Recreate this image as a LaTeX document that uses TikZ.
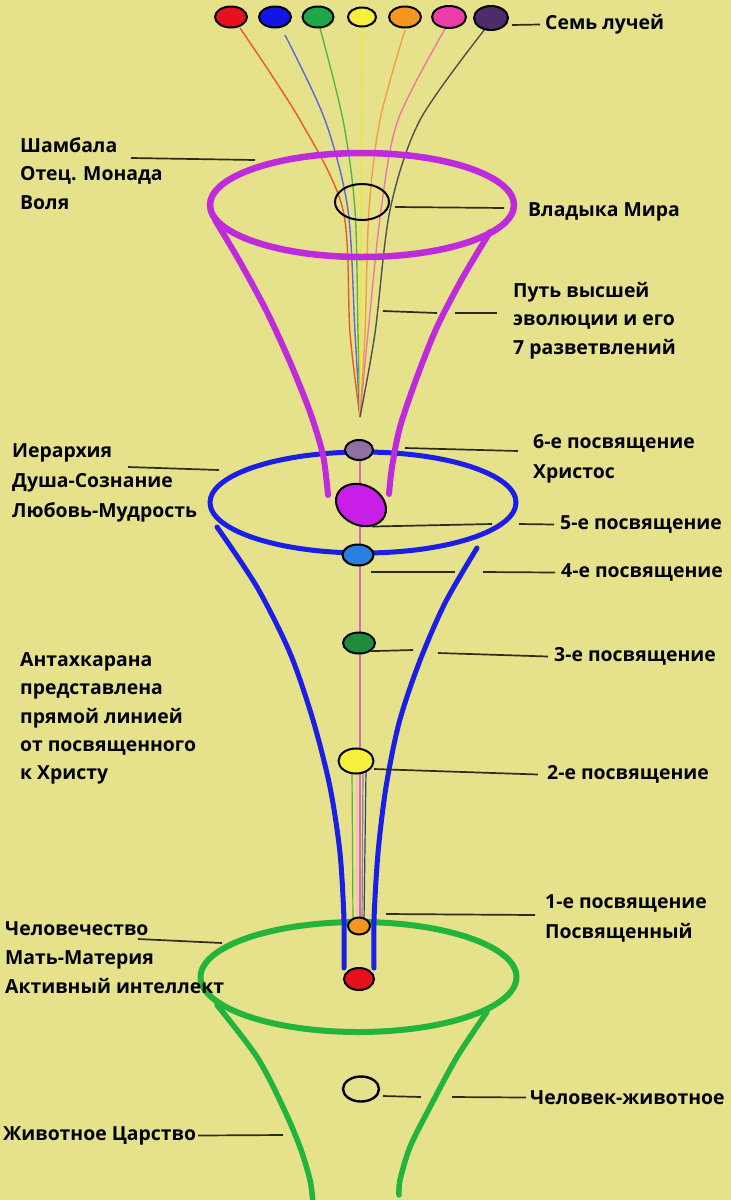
\documentclass[tikz,border=0pt]{standalone}
\usepackage{fontspec}
\setmainfont{Open Sans}
\usepackage{tikz}
\usetikzlibrary{shapes.geometric, positioning}
\definecolor{bgyellow}{HTML}{E6E28C}
\definecolor{leadgray}{HTML}{2E2B14}
\definecolor{violetrim}{HTML}{BE2BDD}
\definecolor{bluerim}{HTML}{1A1EE6}
\definecolor{greenrim}{HTML}{22B43C}
\definecolor{rayred}{HTML}{E85A28}
\definecolor{rayblue}{HTML}{5A6ADC}
\definecolor{raygreen}{HTML}{5AB446}
\definecolor{rayyellow}{HTML}{F0E632}
\definecolor{rayorange}{HTML}{F0A03C}
\definecolor{raypink}{HTML}{F078A0}
\definecolor{raygray}{HTML}{505050}
\definecolor{antpink}{HTML}{D868B8}
\definecolor{beadred}{HTML}{E8101C}
\definecolor{beadblue}{HTML}{1414E6}
\definecolor{beadgreen}{HTML}{1EA846}
\definecolor{beadyellow}{HTML}{F5F03C}
\definecolor{beadorange}{HTML}{F5961E}
\definecolor{beadpink}{HTML}{EC3CAA}
\definecolor{beadplum}{HTML}{4E2C6C}
\definecolor{beadmauve}{HTML}{9070A0}
\definecolor{beadmagenta}{HTML}{C81EE8}
\definecolor{beadsky}{HTML}{2A80E0}
\definecolor{beadforest}{HTML}{1E8C3C}

\begin{document}
\begin{tikzpicture}[x=1pt, y=-1pt,
  lbl/.style={anchor=west, inner sep=0pt, align=left, text=black,
              font=\fontsize{19.4}{28.7}\selectfont\bfseries},
  lead/.style={draw=leadgray, line width=1.7pt},
  ray/.style={line width=1.4pt},
  bead/.style={ellipse, draw=black, line width=2pt, inner sep=0pt},
  rim/.style={line width=6pt},
  side/.style={line width=5.5pt, line cap=round},
]
  \fill[bgyellow] (0,0) rectangle (731,1200);
  \useasboundingbox (0,0) rectangle (731,1200);

  % green level
  \draw[rim, greenrim] (358.5,977) ellipse [x radius=158pt, y radius=55pt];
  \draw[side, greenrim] plot[smooth] coordinates {(217,1005) (257,1057) (283,1107) (300,1147) (310,1180) (313,1203)};
  \draw[side, greenrim] plot[smooth] coordinates {(487,1012) (457,1057) (430,1107) (410,1147) (400,1180) (399,1195)};

  % blue level
  \draw[rim, bluerim, line width=5pt] (363,502.5) ellipse [x radius=153pt, y radius=50.5pt];
  \draw[side, bluerim, line width=5pt] plot[smooth] coordinates {(217,527) (257,587) (290,653) (313,720) (330,787) (340,853) (344,920) (344,968)};
  \draw[side, bluerim, line width=5pt] plot[smooth] coordinates {(477,548) (445,603) (419,663) (399,723) (386,787) (378,853) (374,920) (374,968)};

  % antahkarana
  \draw[antpink, line width=1.3pt] (360,450) -- (360,760);
  \draw[raygreen, line width=1.2pt] (352,770) -- (353,922);
  \draw[raypink!50, line width=1.2pt] (357,772) -- (357,922);
  \draw[antpink, line width=1.2pt] (360,772) -- (360,922);
  \draw[raygray!70, line width=1.2pt] (363,772) -- (362,922);
  \draw[rayblue!60!black, line width=1.2pt] (366,770) -- (364,922);

  % seven rays
  \draw[ray, rayred] plot[smooth] coordinates {(240,28) (300,120) (343,210) (350,333) (360,417)};
  \draw[ray, rayblue] plot[smooth] coordinates {(285,35) (325,120) (348,210) (355,333) (360,417)};
  \draw[ray, raygreen] plot[smooth] coordinates {(320,28) (343,120) (355,210) (358,333) (360,417)};
  \draw[ray, rayyellow] (362,27) -- (360,417);
  \draw[ray, rayorange] plot[smooth] coordinates {(405,30) (380,120) (369,210) (365,333) (360,417)};
  \draw[ray, raypink] plot[smooth] coordinates {(445,29) (398,120) (381,210) (368,333) (360,417)};
  \draw[ray, raygray] plot[smooth] coordinates {(485,29) (420,120) (390,210) (375,333) (360,417)};

  % violet level
  \draw[rim, violetrim, line width=6.5pt] (362,205) ellipse [x radius=152pt, y radius=52pt];
  \draw[side, violetrim, line width=6pt] plot[smooth] coordinates {(215,220) (240,262) (267,312) (290,362) (310,412) (323,455) (328,495)};
  \draw[side, violetrim, line width=6pt] plot[smooth] coordinates {(490,232) (463,277) (437,327) (417,377) (400,427) (392,467) (389,494)};
  \node[ellipse, draw=black, line width=2pt, minimum width=54pt, minimum height=36pt] (lord) at (362,202) {};

  % beads of the rays
  \node[bead, fill=beadred, minimum width=32pt, minimum height=21pt] (r1) at (231,17) {};
  \node[bead, fill=beadblue, minimum width=32pt, minimum height=21pt] (r2) at (275,17) {};
  \node[bead, fill=beadgreen, minimum width=31pt, minimum height=21pt] (r3) at (318,17) {};
  \node[bead, fill=beadyellow, minimum width=28pt, minimum height=19pt] (r4) at (362,17) {};
  \node[bead, fill=beadorange, minimum width=32pt, minimum height=21pt] (r5) at (405,17) {};
  \node[bead, fill=beadpink, minimum width=34pt, minimum height=22pt] (r6) at (449,17) {};
  \node[bead, fill=beadplum, minimum width=34pt, minimum height=24pt] (r7) at (491,18) {};

  % initiations
  \node[bead, fill=beadmauve, minimum width=28pt, minimum height=20pt] (b6) at (359,450) {};
  \node[bead, fill=beadmagenta, minimum width=52pt, minimum height=40pt, rotate=-25] (b5) at (361,505) {};
  \node[bead, fill=beadsky, minimum width=31pt, minimum height=21pt] (b4) at (358,555) {};
  \node[bead, fill=beadforest, minimum width=32pt, minimum height=21pt] (b3) at (359,643) {};
  \node[bead, fill=beadyellow, minimum width=35pt, minimum height=25pt] (b2) at (356,761) {};
  \node[bead, fill=beadorange, minimum width=22pt, minimum height=17pt] (b1) at (359,926) {};
  \node[bead, fill=beadred, minimum width=30pt, minimum height=22pt] (b0) at (359,979) {};
  \node[bead, line width=2.4pt, minimum width=36pt, minimum height=25pt] (bh) at (361,1089) {};

  % labels
  \node[lbl] (lbl-rays) at (545,24.5) {Семь лучей};
  \node[lbl] (lbl-sham) at (20,173.5) {Шамбала\\Отец. Монада\\Воля};
  \node[lbl] (lbl-lord) at (528,211.5) {Владыка Мира};
  \node[lbl] (lbl-path) at (513,320.5) {Путь высшей\\эволюции и его\\7 разветвлений};
  \node[lbl, font=\fontsize{19.4}{30}\selectfont\bfseries] (lbl-hier) at (12,482.5) {Иерархия\\Душа-Сознание\\Любовь-Мудрость};
  \node[lbl, font=\fontsize{19.4}{30}\selectfont\bfseries] (lbl-six) at (533,458.5) {6-е посвящение\\Христос};
  \node[lbl] (lbl-five) at (560,524.5) {5-е посвящение};
  \node[lbl] (lbl-four) at (561,572.5) {4-е посвящение};
  \node[lbl, font=\fontsize{19.4}{28.3}\selectfont\bfseries] (lbl-ant) at (20,718.5) {Антахкарана\\представлена\\прямой линией\\от посвященного\\к Христу};
  \node[lbl] (lbl-three) at (554,656.5) {3-е посвящение};
  \node[lbl] (lbl-two) at (547,774.5) {2-е посвящение};
  \node[lbl, font=\fontsize{19.4}{30}\selectfont\bfseries] (lbl-one) at (545,918.5) {1-е посвящение\\Посвященный};
  \node[lbl, font=\fontsize{19.4}{29}\selectfont\bfseries] (lbl-man) at (5,957.5) {Человечество\\Мать-Материя\\Активный интеллект};
  \node[lbl] (lbl-hb) at (530,1097.5) {Человек-животное};
  \node[lbl] (lbl-ak) at (3,1135.5) {Животное Царство};

  % leader ends
  \coordinate (rays-a) at (512,25);
  \coordinate (sham-a) at (131,158);   \coordinate (sham-b) at (255,160);
  \coordinate (lord-a) at (395,207);   \coordinate (lord-b) at (504,208);
  \coordinate (path-a) at (383,311);   \coordinate (path-b) at (437,313);
  \coordinate (path-c) at (455,313);   \coordinate (path-d) at (497,313);
  \coordinate (hier-a) at (128,467);   \coordinate (hier-b) at (219,470);
  \coordinate (six-a) at (405,448);    \coordinate (six-b) at (518,451);
  \coordinate (five-b) at (492,524);   \coordinate (five-c) at (519,524);
  \coordinate (four-a) at (371,572);   \coordinate (four-b) at (455,572);
  \coordinate (four-c) at (483,572);
  \coordinate (three-b) at (413,650);  \coordinate (three-c) at (438,653);
  \coordinate (two-a) at (374,769);
  \coordinate (one-a) at (386,914);    \coordinate (one-b) at (535,915);
  \coordinate (man-a) at (138,939);    \coordinate (man-b) at (222,943);
  \coordinate (hb-a) at (383,1096);    \coordinate (hb-b) at (421,1097);
  \coordinate (hb-c) at (452,1097);
  \coordinate (ak-b) at (283,1135);

  \draw[lead] (rays-a) -- ([xshift=-5pt]lbl-rays.west);
  \draw[lead] (sham-a) -- (sham-b);
  \draw[lead] (lord-a) -- (lord-b);
  \draw[lead] (path-a) -- (path-b);
  \draw[lead] (path-c) -- (path-d);
  \draw[lead] (hier-a) -- (hier-b);
  \draw[lead] (six-a) -- (six-b);
  \draw[lead] (b5.south east) -- (five-b);
  \draw[lead] (five-c) -- ([xshift=-6pt]lbl-five.west);
  \draw[lead] (four-a) -- (four-b);
  \draw[lead] (four-c) -- ([xshift=-6pt]lbl-four.west);
  \draw[lead] (b3.south east) -- (three-b);
  \draw[lead] (three-c) -- ([xshift=-6pt]lbl-three.west);
  \draw[lead] (two-a) -- ([xshift=-9pt]lbl-two.west);
  \draw[lead] (one-a) -- (one-b);
  \draw[lead] (man-a) -- (man-b);
  \draw[lead] (hb-a) -- (hb-b);
  \draw[lead] (hb-c) -- ([xshift=-4pt]lbl-hb.west);
  \draw[lead] ([xshift=2pt]lbl-ak.east) -- (ak-b);
\end{tikzpicture}
\end{document}
